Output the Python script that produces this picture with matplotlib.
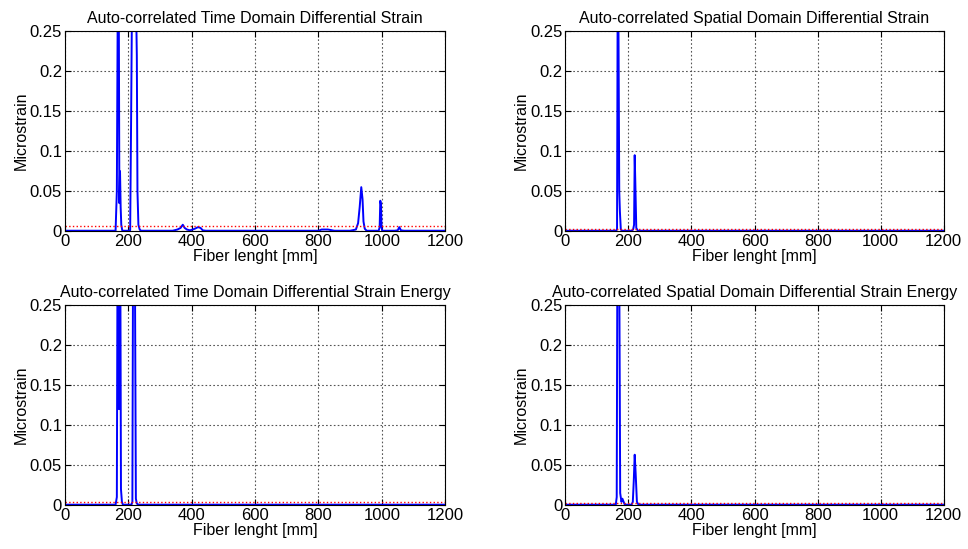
import matplotlib
matplotlib.use("Agg")
import matplotlib.pyplot as plt
import numpy as np

plt.rcParams['font.family'] = ['Liberation Sans', 'DejaVu Sans']

# fiber position [mm] and strain values
td_x = [0, 100, 160, 164, 167, 170, 172, 174, 176, 178, 181, 185, 200, 206, 209, 212, 215, 218,
        221, 224, 227, 229, 232, 236, 240, 340, 355, 365, 372, 378, 385, 395, 410, 420, 428,
        435, 445, 600, 800, 810, 830, 850, 900, 918, 925, 930, 935, 939, 942, 946, 952, 980,
        990, 993, 995, 997, 999, 1001, 1040, 1050, 1055, 1060, 1070, 1200]
td_y = [0.0005, 0.0005, 0.0005, 0.05, 0.3, 0.3, 0.035, 0.075, 0.03, 0.008, 0.001, 0.0005,
        0.0005, 0.001, 0.14, 0.3, 0.3, 0.3, 0.3, 0.3, 0.22, 0.05, 0.008, 0.002, 0.0005,
        0.0005, 0.002, 0.004, 0.008, 0.004, 0.002, 0.001, 0.003, 0.005, 0.004, 0.001,
        0.0005, 0.0005, 0.0005, 0.002, 0.002, 0.0005, 0.0005, 0.002, 0.01, 0.03, 0.055,
        0.04, 0.012, 0.003, 0.0005, 0.0005, 0.0005, 0.005, 0.038, 0.034, 0.005, 0.0005,
        0.0005, 0.001, 0.005, 0.001, 0.0005, 0.0005]

sd_x = [0, 160, 164, 166, 168, 171, 173, 176, 180, 210, 215, 218, 220, 222, 225, 230, 1200]
sd_y = [0.0005, 0.0005, 0.002, 0.3, 0.3, 0.05, 0.025, 0.002, 0.0005, 0.0005, 0.002, 0.008,
        0.095, 0.06, 0.004, 0.0005, 0.0005]

tde_x = [0, 160, 164, 166, 169, 171, 173, 175, 177, 180, 183, 210, 213, 215, 218, 221, 224,
         227, 232, 1200]
tde_y = [0.0005, 0.0005, 0.01, 0.3, 0.3, 0.12, 0.3, 0.3, 0.02, 0.004, 0.0005, 0.0005, 0.004,
         0.3, 0.3, 0.3, 0.008, 0.002, 0.0005, 0.0005]

sde_x = [0, 160, 163, 165, 168, 171, 174, 178, 181, 185, 188, 195, 210, 214, 217, 220, 223,
         227, 232, 1200]
sde_y = [0.0005, 0.0005, 0.01, 0.3, 0.3, 0.3, 0.015, 0.004, 0.008, 0.004, 0.001, 0.0005,
         0.0005, 0.004, 0.03, 0.063, 0.04, 0.004, 0.0005, 0.0005]

thresholds = [0.007, 0.003, 0.004, 0.003]
titles = ['Auto-correlated Time Domain Differential Strain',
          'Auto-correlated Spatial Domain Differential Strain',
          'Auto-correlated Time Domain Differential Strain Energy',
          'Auto-correlated Spatial Domain Differential Strain Energy']
xticks = [0, 200, 400, 600, 800, 1000, 1200]
yticks = [0, 0.05, 0.1, 0.15, 0.2, 0.25]
ytick_labels = ['0', '0.05', '0.1', '0.15', '0.2', '0.25']

series = [(td_x, td_y), (sd_x, sd_y), (tde_x, tde_y), (sde_x, sde_y)]

fig = plt.figure(figsize=(9.68, 5.49), dpi=100)
positions = [[0.067, 0.579, 0.393, 0.364], [0.584, 0.579, 0.391, 0.364],
             [0.067, 0.080, 0.393, 0.364], [0.584, 0.080, 0.391, 0.364]]

for i in range(4):
        ax = fig.add_axes(positions[i])
        x, y = series[i]
        ax.plot(x, y, color='#0000ff', linewidth=1.4)
        ax.axhline(thresholds[i], color='red', linestyle=':', linewidth=1.0)
        ax.set_xlim(0, 1200)
        ax.set_ylim(0, 0.25)
        ax.set_xticks(xticks)
        ax.set_yticks(yticks)
        ax.set_yticklabels(ytick_labels)
        ax.grid(True, color='#555555', linestyle=(0, (1.5, 2.0)), linewidth=0.8)
        ax.tick_params(direction='in', labelsize=12, length=4, top=True, right=True, pad=2)
        ax.set_title(titles[i], fontsize=11.5, pad=6)
        ax.set_xlabel('Fiber lenght [mm]', fontsize=11.5, labelpad=0)
        ax.set_ylabel('Microstrain', fontsize=11.5, labelpad=1)
        for s in ax.spines.values():
                s.set_linewidth(0.8)

fig.savefig('out.png', dpi=100)
